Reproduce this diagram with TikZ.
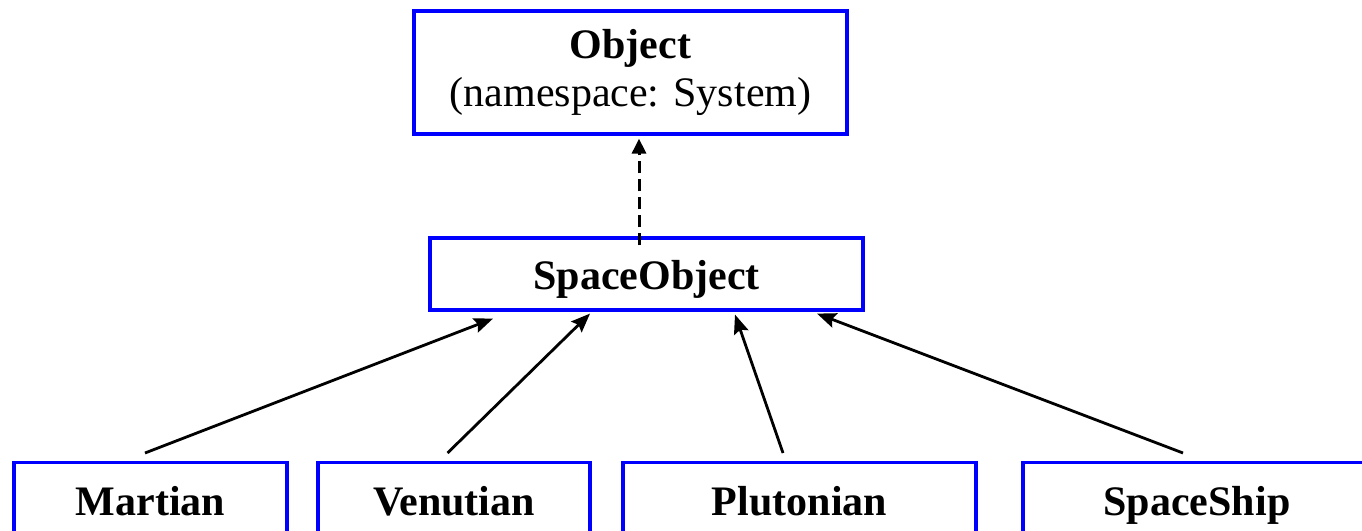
\documentclass[tikz,border=0pt]{standalone}
\usepackage{fontspec}
\setmainfont{Liberation Serif}
\usetikzlibrary{arrows.meta}
\definecolor{boxblue}{RGB}{0,0,255}
\tikzset{
  classbox/.style={draw=boxblue, line width=3.2pt, rectangle, inner sep=0pt,
    font=\fontsize{42pt}{48pt}\selectfont\bfseries},
  leafbox/.style={classbox, anchor=north, minimum height=100pt,
    text height=53pt, text depth=47pt},
  inherit/.style={black, line width=2.8pt,
    -{Stealth[length=19pt, width=15pt, inset=3pt]}},
  implements/.style={black, line width=3pt, dash pattern=on 12pt off 6pt,
    -{Triangle[length=15pt, width=14pt]}}
}
\begin{document}
\begin{tikzpicture}[x=1pt, y=-1pt]
  \path[use as bounding box] (0,0) rectangle (1362,530);
  \clip (0,0) rectangle (1362,530);

  % root class with its namespace
  \node[classbox, minimum width=433pt, minimum height=123pt, align=center]
    (obj) at (630.5,72.5)
    {\rule{0pt}{30pt}Object\\\mdseries (namespace: System)};

  % intermediate base class
  \node[classbox, minimum width=433pt, minimum height=72pt,
        text height=51pt, text depth=21pt]
    (so) at (646.5,274) {SpaceObject};

  % derived classes along the bottom
  \node[leafbox, minimum width=273pt] (mar) at (150.5,461) {Martian};
  \node[leafbox, minimum width=272pt] (ven) at (454,461) {Venutian};
  \node[leafbox, minimum width=353pt] (plu) at (799.5,461) {Plutonian};
  \node[leafbox, minimum width=348pt] (shp) at (1197,461) {SpaceShip};

  % inheritance arrows
  \draw[implements] ([xshift=-7.5pt, yshift=-9pt]so.north)
    -- ([xshift=8.5pt, yshift=-3pt]obj.south);
  \draw[inherit] ([xshift=-5.5pt, yshift=8pt]mar.north)
    -- ([xshift=-153.5pt, yshift=-7pt]so.south);
  \draw[inherit] ([xshift=-6.5pt, yshift=8pt]ven.north)
    -- ([xshift=-56.5pt, yshift=-2pt]so.south);
  \draw[inherit] ([xshift=-16.5pt, yshift=8pt]plu.north)
    -- ([xshift=88.5pt, yshift=-3pt]so.south);
  \draw[inherit] ([xshift=-14pt, yshift=8pt]shp.north)
    -- ([xshift=170.5pt, yshift=-2pt]so.south);
\end{tikzpicture}
\end{document}
